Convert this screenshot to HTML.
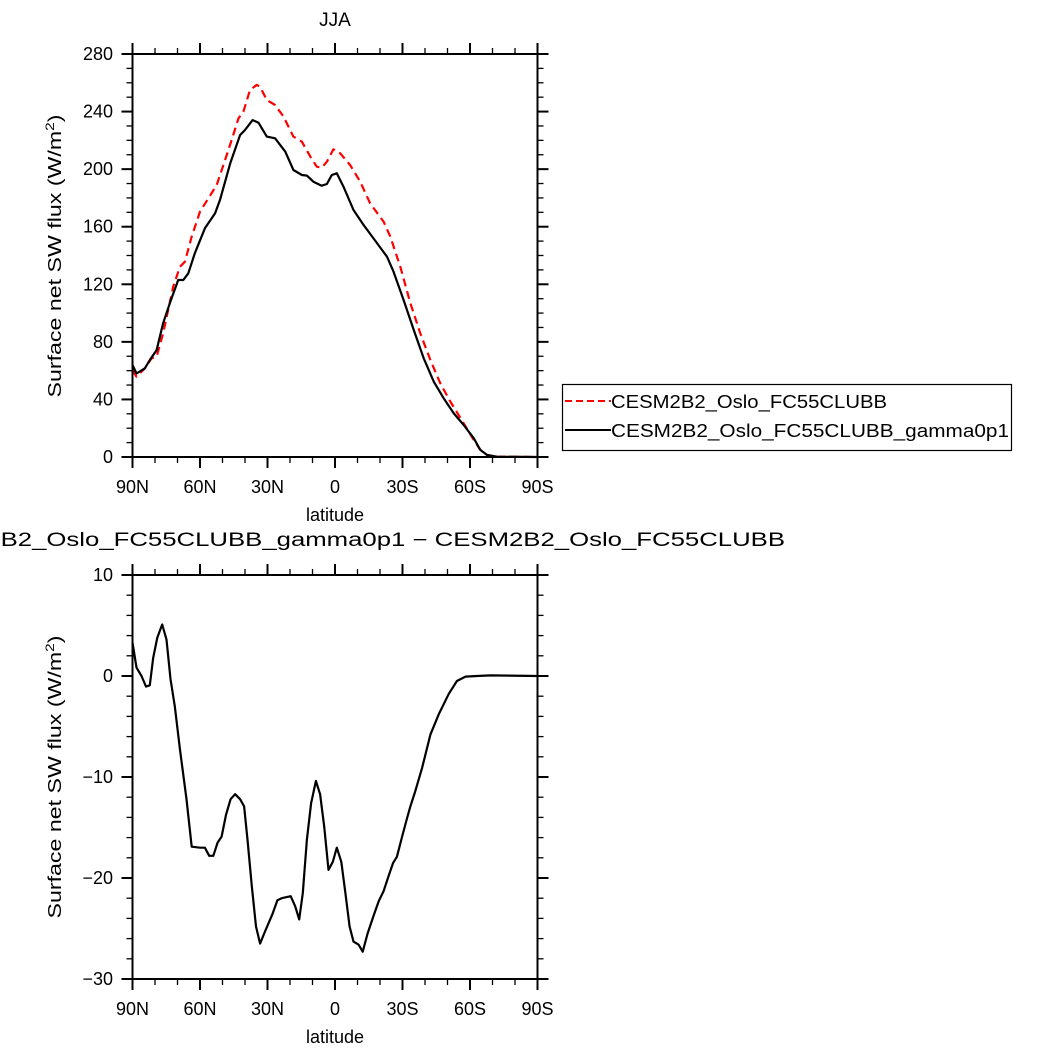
<!DOCTYPE html>
<html><head><meta charset="utf-8"><style>
html,body{margin:0;padding:0;background:#fff;overflow:hidden;}
svg{display:block;font-family:"Liberation Sans",sans-serif;}
</style></head><body>
<svg id="fig" width="1056" height="1054" viewBox="0 0 1056 1054">
<text x="335" y="26" text-anchor="middle" font-size="19">JJA</text>
<g id="top"></g>
<text x="-88" y="546" font-size="19" textLength="873" lengthAdjust="spacingAndGlyphs">CESM2B2_Oslo_FC55CLUBB_gamma0p1 − CESM2B2_Oslo_FC55CLUBB</text>
<g id="bot"></g>
<g>
<rect x="562.5" y="384.5" width="449" height="66" fill="none" stroke="#000" stroke-width="1.2"/>
<line x1="565" y1="401" x2="611" y2="401" stroke="#f00" stroke-width="2" stroke-dasharray="7,4"/>
<text x="611" y="408" font-size="18" textLength="276" lengthAdjust="spacingAndGlyphs">CESM2B2_Oslo_FC55CLUBB</text>
<line x1="565" y1="430" x2="611" y2="430" stroke="#000" stroke-width="2"/>
<text x="611" y="437" font-size="18" textLength="398" lengthAdjust="spacingAndGlyphs">CESM2B2_Oslo_FC55CLUBB_gamma0p1</text>
</g>
</svg>
<script>
const latTicks=[90,60,30,0,-30,-60,-90];
const latLabels=["90N","60N","30N","0","30S","60S","90S"];
const topYTicks=[0,40,80,120,160,200,240,280];
const botYTicks=[-30,-20,-10,0,10];
const blackLat=[90,88.2,84.5,82.3,79.3,76.4,73.4,69.7,67.4,65.2,62.3,57.8,53.3,51.1,46.6,42.2,40,36.6,34,30.3,26.6,22.1,18.5,14.7,12.5,9.6,5.9,3.6,1.4,-0.8,-3.8,-8.2,-12.7,-17.1,-23.1,-26,-30.5,-35,-39.4,-43.9,-48.3,-52.8,-57.2,-61.7,-64.6,-67.6,-72,-90];
const blackVal=[63.9,58,61.6,67.4,74.3,92.9,106.8,123,123,127.6,141.5,158.9,169.3,178.6,204,223.7,227.2,234.1,232.3,222.6,221.4,212.1,199.4,195.9,195.5,191.3,188.5,189.7,195.9,197.1,187.8,171.6,161.2,151.9,139.2,128.8,109.1,88.2,68.6,52.3,40.8,30.3,22.2,13,4.9,1.4,0.2,0];
const redLat=[90,88.2,84.5,81.5,79.3,76.4,71.9,68.9,66.7,63.7,60,56.3,52.6,49.6,45.9,42.9,40.7,37.8,34.8,33.3,30.3,26.6,22.9,18.5,14.7,11,8.1,5.9,3.6,0.7,-2.3,-6.7,-11.2,-15.6,-21.6,-24.6,-29,-33.5,-37.9,-42.4,-46.8,-51.3,-57.2,-61.7,-64.6,-67.6,-72,-90];
const redVal=[60.4,55.8,61.6,68.6,69.7,85.9,118.3,132.2,135.7,153.1,170.5,179.7,189,202.9,220.3,235.3,239.9,255,258.5,257.3,248,244.6,236.5,222.6,219.1,208.7,201.7,201,205.2,213.8,211,202.9,191.3,176.3,163.5,153.1,132.2,106.8,85.9,67.4,51.2,38.4,23.4,11.8,4.9,1.4,0.2,0];
const diffLat=[90,88.2,86,84,82.3,80.8,79,76.8,74.9,73.1,71.2,68.9,66,63.7,60,57.8,55.9,54.1,52.2,50.4,48.4,46.4,44.4,42.2,40.4,38.9,37,35.1,33.3,31.1,27.7,25.6,23.7,19.7,17.7,15.9,14.3,12.5,10.6,8.5,6.6,4.8,2.9,1,-0.8,-2.8,-4.6,-6.5,-8.2,-10.5,-12.3,-14.5,-17.2,-19.4,-21.6,-23.8,-25.8,-27.5,-29.8,-32,-33.5,-35.7,-38.7,-42.4,-46.1,-50.5,-54.2,-58,-63.1,-69.1,-90];
const diffVal=[3.3,0.83,0,-1.05,-0.92,1.8,3.8,5.1,3.6,-0.3,-3,-7.3,-12.2,-16.9,-17,-17,-17.8,-17.8,-16.5,-15.9,-13.7,-12.2,-11.7,-12.2,-12.9,-16.2,-20.8,-24.8,-26.5,-25.3,-23.5,-22.2,-22,-21.8,-22.8,-24.1,-21.5,-16.2,-12.6,-10.4,-11.7,-14.9,-19.2,-18.4,-17,-18.4,-21.5,-24.8,-26.3,-26.6,-27.3,-25.5,-23.7,-22.3,-21.3,-19.8,-18.5,-17.9,-15.9,-14.1,-12.9,-11.4,-9.1,-5.8,-3.8,-1.8,-0.5,-0.06,0,0.06,0];
const NS="http://www.w3.org/2000/svg";
const X0=132.5,X1=537.5;
function xs(lat){return X0+(90-lat)/180*(X1-X0);}
function mk(parent,tag,attrs){const e=document.createElementNS(NS,tag);for(const k in attrs)e.setAttribute(k,attrs[k]);parent.appendChild(e);return e;}
function panel(g,top,bot,ymin,ymax,yticks,yminor,ytitleY,series){
  const ys=v=>bot-(v-ymin)/(ymax-ymin)*(bot-top);
  for(let lat=90;lat>=-90;lat-=10){
    const major=lat%30===0, L=major?11:6, x=xs(lat);
    let t=mk(g,'line',{x1:x,y1:bot,x2:x,y2:bot+L,stroke:'#000','stroke-width':major?2:1.3});
    
    
    t=mk(g,'line',{x1:x,y1:top,x2:x,y2:top-L,stroke:'#000','stroke-width':major?2:1.3});
    
    
  }
  for(let v=ymin;v<=ymax+1e-9;v+=yminor){
    const major=yticks.some(t=>Math.abs(t-v)<1e-6), L=major?11:6, y=ys(v);
    let t=mk(g,'line',{x1:X0,y1:y,x2:X0-L,y2:y,stroke:'#000','stroke-width':major?2:1.3});
    
    
    t=mk(g,'line',{x1:X1,y1:y,x2:X1+L,y2:y,stroke:'#000','stroke-width':major?2:1.3});
    
    
  }
  latTicks.forEach((lat,i)=>{
    const t=mk(g,'text',{x:xs(lat),y:bot+36,'text-anchor':'middle','font-size':18});
    t.textContent=latLabels[i];
    
    
  });
  yticks.forEach(v=>{
    const t=mk(g,'text',{x:113,y:ys(v)+6,'text-anchor':'end','font-size':18});
    t.textContent=v<0?'−'+Math.abs(v):String(v);
    
    
  });
  let xt=mk(g,'text',{x:335,y:bot+64,'text-anchor':'middle','font-size':18});
  xt.textContent='latitude';
  
  
  let yt=mk(g,'text',{x:0,y:0,'text-anchor':'middle','font-size':18,textLength:283,lengthAdjust:'spacingAndGlyphs',transform:`translate(61,${ytitleY}) rotate(-90)`});
  yt.innerHTML='Surface net SW flux (W/m<tspan dy="-7" font-size="12">2</tspan><tspan dy="7">)</tspan>';
  
  
  series.forEach(s=>{
    const d=s.lat.map((l,i)=>(i?'L':'M')+xs(l).toFixed(1)+','+ys(s.val[i]).toFixed(1)).join('');
    const p=mk(g,'path',{d:d,fill:'none',stroke:s.color,'stroke-width':2.2,'stroke-linejoin':'round'});
    if(s.dash)p.setAttribute('stroke-dasharray',s.dash);
    
    
  });
  const fr=mk(g,'rect',{x:X0,y:top,width:X1-X0,height:bot-top,fill:'none',stroke:'#000','stroke-width':2});
  
  
}
panel(document.getElementById('top'),54,457,0,280,topYTicks,10,256,[
  {lat:redLat,val:redVal,color:'#f00',dash:'8,5',name:'line-clubb'},
  {lat:blackLat,val:blackVal,color:'#000',name:'line-gamma0p1'}]);
panel(document.getElementById('bot'),575,979,-30,10,botYTicks,2,777,[
  {lat:diffLat,val:diffVal,color:'#000',name:'line-difference'}]);
</script>
</body></html>
